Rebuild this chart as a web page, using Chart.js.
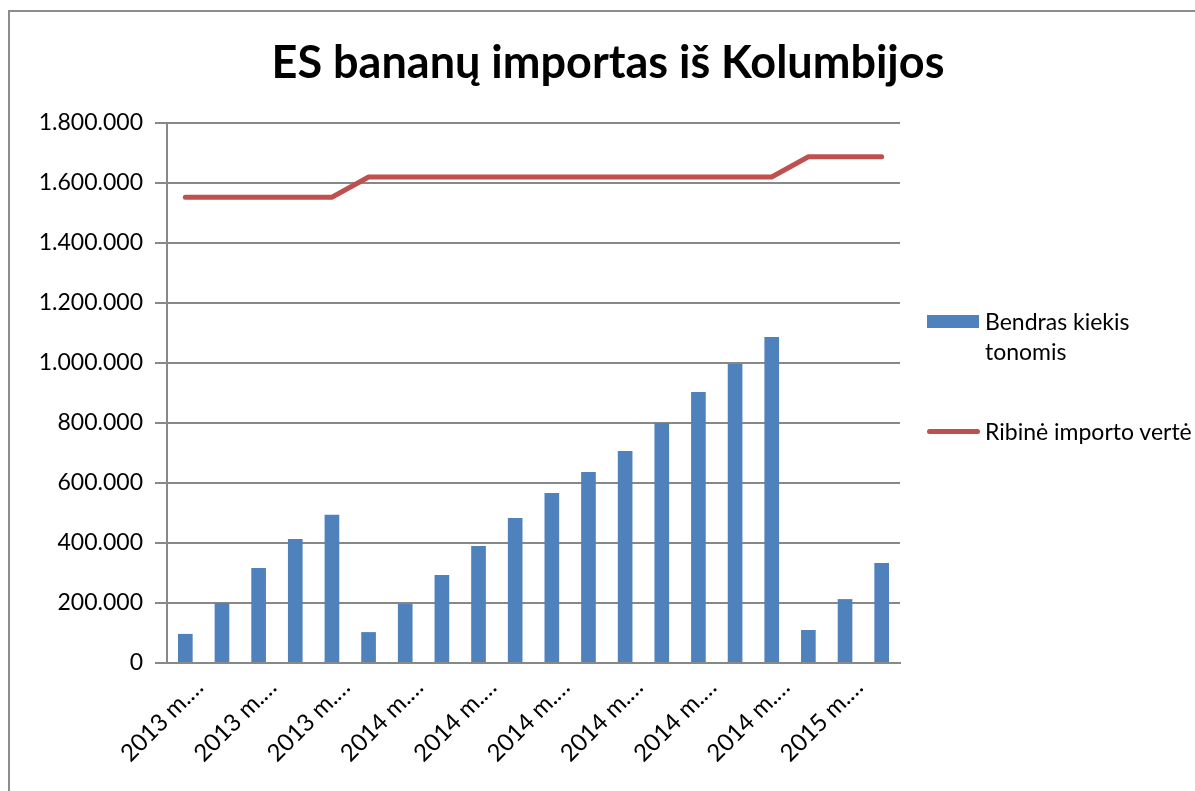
<!DOCTYPE html>
<html>
<head>
<meta charset="utf-8">
<script src="https://cdn.jsdelivr.net/npm/chart.js@4"></script>
<style>
  body { margin: 0; background: #fff; }
  #wrap { position: relative; width: 1195px; height: 791px; overflow: hidden; }
  #frame { position: absolute; left: 8px; top: 10px; width: 1300px; height: 900px; border: 2px solid #8c8c8c; box-sizing: border-box; }
  canvas { position: absolute; left: 0; top: 0; }
  #title { position: absolute; left: 0; top: 34px; width: 1216px; text-align: center; font-family: Lato, sans-serif; font-weight: bold; font-size: 45px; line-height: 54px; color: #000; }
  .leg { position: absolute; font-family: Lato, sans-serif; font-size: 23px; color: #000; line-height: 30px; }
  .sw { position: absolute; }
</style>
</head>
<body>
<div id="wrap">
  <div id="frame"></div>
  <canvas id="chart" width="1195" height="791"></canvas>
  <div id="title">ES bananų importas iš Kolumbijos</div>
  <div class="sw" style="left:927px; top:315px; width:52px; height:13px; background:#4F81BD;"></div>
  <div class="leg" style="left:985px; top:306px;">Bendras kiekis<br>tonomis</div>
  <div class="sw" style="left:927px; top:429px; width:53px; height:5px; border-radius:3px; background:#C0504D;"></div>
  <div class="leg" style="left:985px; top:416px;">Ribinė importo vertė</div>
</div>
<script>
// Months from 2013 August to 2015 March
const months = [
  '2013 m. rugpjūtis', '2013 m. rugsėjis', '2013 m. spalis', '2013 m. lapkritis', '2013 m. gruodis',
  '2014 m. sausis', '2014 m. vasaris', '2014 m. kovas', '2014 m. balandis', '2014 m. gegužė', '2014 m. birželis',
  '2014 m. liepa', '2014 m. rugpjūtis', '2014 m. rugsėjis', '2014 m. spalis', '2014 m. lapkritis', '2014 m. gruodis',
  '2015 m. sausis', '2015 m. vasaris', '2015 m. kovas'
];
// cumulative import, tonnes
const totalTonnes = [
  97000, 200000, 317000, 413000, 494000,
  103000, 197000, 293000, 390000, 483000, 567000,
  637000, 707000, 800000, 903000, 997000, 1087000,
  110000, 213000, 333000
];
// trigger volume
const triggerVolume = [
  1552500, 1552500, 1552500, 1552500, 1552500,
  1620000, 1620000, 1620000, 1620000, 1620000, 1620000,
  1620000, 1620000, 1620000, 1620000, 1620000, 1620000,
  1687500, 1687500, 1687500
];
const yTicks = [0, 200000, 400000, 600000, 800000, 1000000, 1200000, 1400000, 1600000, 1800000];

const fmt = (n) => String(n).replace(/\B(?=(\d{3})+(?!\d))/g, '.');

new Chart(document.getElementById('chart').getContext('2d'), {
  data: {
    labels: months,
    datasets: [
      {
        type: 'line',
        label: 'Ribinė importo vertė',
        data: triggerVolume,
        borderColor: '#C0504D',
        borderWidth: 5,
        borderCapStyle: 'round',
        pointRadius: 0,
        tension: 0,
        order: 0
      },
      {
        type: 'bar',
        label: 'Bendras kiekis tonomis',
        data: totalTonnes,
        backgroundColor: '#4F81BD',
        categoryPercentage: 1,
        barPercentage: 0.4,
        order: 1
      }
    ]
  },
  options: {
    responsive: false,
    animation: false,
    layout: { padding: { left: 10, right: 295, top: 123, bottom: 0 } },
    plugins: {
      legend: { display: false },
      tooltip: { enabled: false }
    },
    scales: {
      x: {
        grid: { display: false },
        border: { display: true, color: '#888', width: 2 },
        ticks: {
          autoSkip: false,
          maxRotation: 45,
          minRotation: 45,
          labelOffset: 14,
          padding: 2,
          color: '#000',
          font: { family: 'Lato', size: 24 },
          callback: function (v, i) {
            return i % 2 === 0 ? this.getLabelForValue(v).slice(0, 7) + '…' : '';
          }
        },
        afterFit: (s) => { s.height = 128; }
      },
      y: {
        min: 0,
        max: 1800000,
        afterBuildTicks: (s) => { s.ticks = yTicks.map(v => ({ value: v })); },
        grid: { color: '#888', lineWidth: 2, tickLength: 12 },
        border: { display: true, color: '#888', width: 2 },
        ticks: {
          color: '#000',
          padding: 12,
          font: { family: 'Lato', size: 23 },
          callback: (v) => fmt(v)
        },
        afterFit: (s) => { s.width = 157; }
      }
    }
  }
});
</script>
</body>
</html>
